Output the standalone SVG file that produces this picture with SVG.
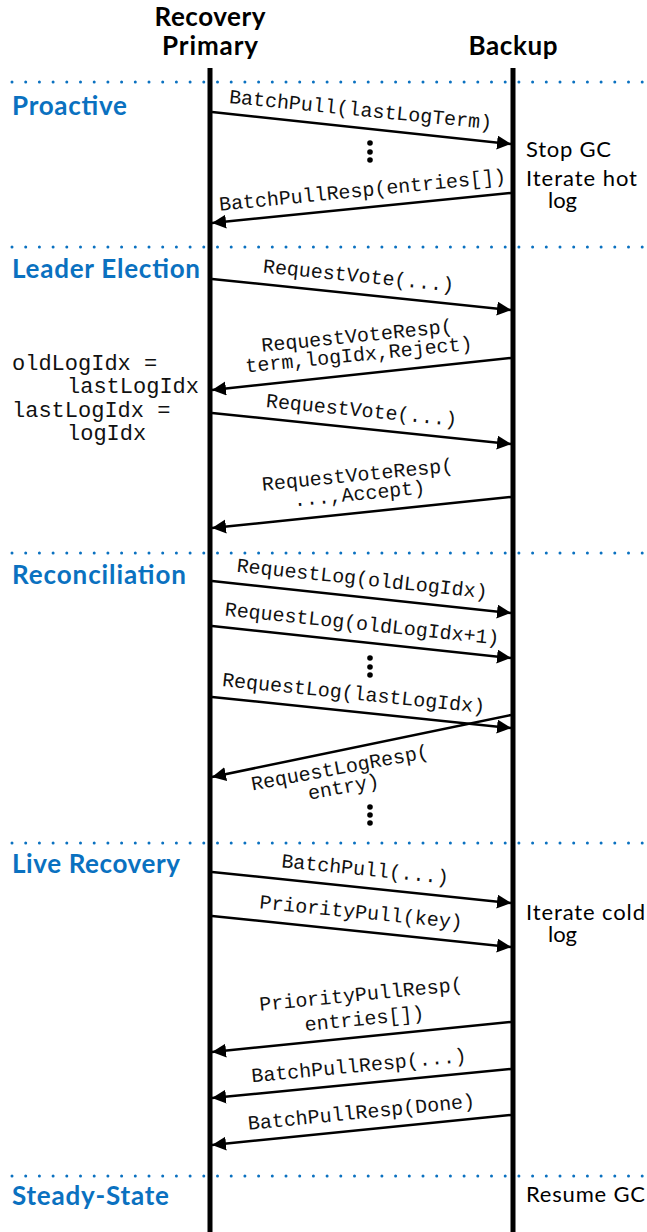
<svg xmlns="http://www.w3.org/2000/svg" width="647" height="1232" viewBox="0 0 647 1232">
<defs>
<style>
.hdr{font-family:Lato,"Open Sans",sans-serif;font-weight:700;font-size:26px;fill:#000;text-anchor:middle}
.sec{font-family:Lato,"Open Sans",sans-serif;font-weight:700;font-size:26px;fill:#0a71c0}
.note{font-family:Lato,"Open Sans",sans-serif;font-size:22px;fill:#000}
.msg{font-family:"Liberation Mono","Courier New",monospace;font-size:20px;fill:#111;text-anchor:middle}
.var{font-family:"Liberation Mono","Courier New",monospace;font-size:22px;fill:#111}
.life{stroke:#000;stroke-width:5}
.sep{stroke:#0a71c0;stroke-width:3;stroke-linecap:round;stroke-dasharray:0 13.7;fill:none}
.arr{stroke:#000;stroke-width:2.5;fill:none;marker-end:url(#ah)}
.dot{fill:#000}
</style>
<marker id="ah" markerUnits="userSpaceOnUse" markerWidth="15" markerHeight="15" refX="14" refY="7" orient="auto"><path d="M0,0 L14,7 L0,14 z" fill="#000"/></marker>
</defs>
<rect width="647" height="1232" fill="#fff"/>

<g id="primary">
<text class="hdr" x="210" y="26" textLength="111">Recovery</text>
<text class="hdr" x="210" y="55" textLength="96">Primary</text>
<line class="life" x1="210" y1="68" x2="210" y2="1232"/>
</g>
<g id="backup">
<text class="hdr" x="513" y="55" textLength="89">Backup</text>
<line class="life" x1="513" y1="68" x2="513" y2="1232"/>
</g>

<g id="separators">
<line class="sep" x1="12" y1="82" x2="647" y2="82"/>
<line class="sep" x1="12" y1="247" x2="647" y2="247"/>
<line class="sep" x1="12" y1="553" x2="647" y2="553"/>
<line class="sep" x1="12" y1="843" x2="647" y2="843"/>
<line class="sep" x1="12" y1="1176" x2="647" y2="1176"/>
</g>

<g id="sec-proactive"><text class="sec" x="12" y="115" textLength="115">Proactive</text></g>
<g id="sec-leader"><text class="sec" x="12" y="278" textLength="188">Leader Election</text></g>
<g id="sec-recon"><text class="sec" x="12" y="584" textLength="174">Reconciliation</text></g>
<g id="sec-live"><text class="sec" x="12" y="873" textLength="168">Live Recovery</text></g>
<g id="sec-steady"><text class="sec" x="12" y="1205" textLength="157">Steady-State</text></g>

<g id="note-stopgc"><text class="note" x="526" y="157" textLength="85">Stop GC</text></g>
<g id="note-hot"><text class="note" x="526" y="186" textLength="111">Iterate hot</text><text class="note" x="548" y="208">log</text></g>
<g id="note-cold"><text class="note" x="526" y="920" textLength="119">Iterate cold</text><text class="note" x="548" y="942">log</text></g>
<g id="note-resume"><text class="note" x="526" y="1202" textLength="119">Resume GC</text></g>

<g id="note-vars">
<text class="var" x="12" y="370">oldLogIdx =</text>
<text class="var" x="67" y="393">lastLogIdx</text>
<text class="var" x="12" y="417">lastLogIdx =</text>
<text class="var" x="67" y="440">logIdx</text>
</g>

<g id="ellipses">
<circle class="dot" cx="370" cy="143" r="2.8"/><circle class="dot" cx="370" cy="152" r="2.8"/><circle class="dot" cx="370" cy="160" r="2.8"/>
<circle class="dot" cx="370" cy="658" r="2.8"/><circle class="dot" cx="370" cy="667" r="2.8"/><circle class="dot" cx="370" cy="675" r="2.8"/>
<circle class="dot" cx="370" cy="807" r="2.8"/><circle class="dot" cx="370" cy="815" r="2.8"/><circle class="dot" cx="370" cy="823" r="2.8"/>
</g>

<g id="connectors">
<line class="arr" x1="212" y1="112" x2="511" y2="144"/>
<line class="arr" x1="511" y1="193" x2="212" y2="223"/>
<line class="arr" x1="212" y1="279" x2="511" y2="310"/>
<line class="arr" x1="511" y1="358" x2="212" y2="390"/>
<line class="arr" x1="212" y1="413" x2="511" y2="444"/>
<line class="arr" x1="511" y1="497" x2="212" y2="528"/>
<line class="arr" x1="212" y1="581" x2="511" y2="613"/>
<line class="arr" x1="212" y1="626" x2="511" y2="658"/>
<line class="arr" x1="212" y1="697" x2="511" y2="728"/>
<line class="arr" x1="511" y1="715" x2="212" y2="777"/>
<line class="arr" x1="212" y1="872" x2="511" y2="903"/>
<line class="arr" x1="212" y1="916" x2="511" y2="947"/>
<line class="arr" x1="511" y1="1022" x2="212" y2="1052"/>
<line class="arr" x1="511" y1="1069" x2="212" y2="1098"/>
<line class="arr" x1="511" y1="1115" x2="212" y2="1145"/>
</g>

<g id="connector-labels">
<text class="msg" transform="translate(360,116) rotate(5.7)">BatchPull(lastLogTerm)</text>
<text class="msg" transform="translate(363,196.5) rotate(-5.7)">BatchPullResp(entries[])</text>
<text class="msg" transform="translate(358,282) rotate(5.7)">RequestVote(...)</text>
<g transform="translate(359.5,361) rotate(-5.8)"><text class="msg" x="0" y="-19">RequestVoteResp(</text><text class="msg" x="0" y="0">term,logIdx,Reject)</text></g>
<text class="msg" transform="translate(361,416.5) rotate(5.7)">RequestVote(...)</text>
<g transform="translate(360,500) rotate(-5.7)"><text class="msg" x="0" y="-19">RequestVoteResp(</text><text class="msg" x="0" y="0">...,Accept)</text></g>
<text class="msg" transform="translate(361.5,585) rotate(6)">RequestLog(oldLogIdx)</text>
<text class="msg" transform="translate(361.5,630) rotate(6)">RequestLog(oldLogIdx+1)</text>
<text class="msg" transform="translate(353,699.5) rotate(5.9)">RequestLog(lastLogIdx)</text>
<g transform="translate(341,774) rotate(-10.5)"><text class="msg" x="0" y="0">RequestLogResp(</text><text class="msg" x="0" y="19.5">entry)</text></g>
<text class="msg" transform="translate(364.5,875.5) rotate(5.7)">BatchPull(...)</text>
<text class="msg" transform="translate(360.5,918.5) rotate(5.7)">PriorityPull(key)</text>
<g transform="translate(365,1025) rotate(-5.7)"><text class="msg" x="-1" y="-24.5">PriorityPullResp(</text><text class="msg" x="0" y="0">entries[])</text></g>
<text class="msg" transform="translate(359.5,1072) rotate(-5.5)">BatchPullResp(...)</text>
<text class="msg" transform="translate(362,1118.5) rotate(-5.7)">BatchPullResp(Done)</text>
</g>
</svg>
